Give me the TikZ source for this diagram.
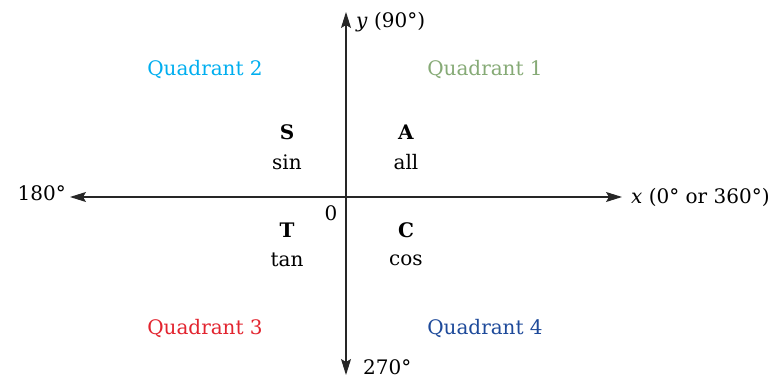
\documentclass[tikz,border=0pt]{standalone}
\usepackage{fontspec}
\setmainfont{DejaVu Serif}
\usetikzlibrary{arrows.meta}

\definecolor{qone}{RGB}{134,170,118}
\definecolor{qtwo}{RGB}{0,174,239}
\definecolor{qthree}{RGB}{226,36,47}
\definecolor{qfour}{RGB}{30,74,154}

\begin{document}
\begin{tikzpicture}[x=1pt, y=1pt, >={Stealth[length=16pt, width=10pt, inset=3pt]},
    font=\fontsize{20}{24}\selectfont,
    axis/.style={->, line width=1.1pt, black!85},
    quad/.style={inner sep=0pt},
    sign/.style={inner sep=0pt, align=center}]
				\useasboundingbox (-346, -181) rectangle (426, 197);
				% axes
				\coordinate (o) at (0, 0);
				\coordinate (xl) at (-276, 0);
				\coordinate (xr) at (276, 0);
				\coordinate (yt) at (0, 185);
				\coordinate (yb) at (0, -178);
				\draw[axis] (o) -- (xl);
				\draw[axis] (o) -- (xr);
				\draw[axis] (o) -- (yt);
				\draw[axis] (o) -- (yb);
				
				\node[anchor=east, inner sep=0pt] (deg180) at (-280, 4) {180°};
				\node[anchor=west, inner sep=0pt] (xlab) at (285, 0) {\textit{x} (0° or 360°)};
				\node[anchor=west, inner sep=0pt] (ylab) at (10, 175) {\textit{y} (90°)};
				\node[anchor=west, inner sep=0pt] (deg270) at (17, -170) {270°};
				\node[inner sep=0pt] (zero) at (-15, -16) {0};
				
				% quadrants
				\node[quad, text=qone] (q1) at (139, 127) {Quadrant 1};
				\node[quad, text=qtwo] (q2) at (-141, 127) {Quadrant 2};
				\node[quad, text=qthree] (q3) at (-141, -132) {Quadrant 3};
				\node[quad, text=qfour] (q4) at (139, -132) {Quadrant 4};
				
				% ASTC
				\node[sign] (a) at (60, 65) {\textbf{A}};
				\node[sign] (all) at (60, 35) {all};
				\node[sign] (s) at (-59, 65) {\textbf{S}};
				\node[sign] (sin) at (-59, 35) {sin};
				\node[sign] (t) at (-59, -33) {\textbf{T}};
				\node[sign] (tan) at (-59, -63) {tan};
				\node[sign] (c) at (60, -33) {\textbf{C}};
				\node[sign] (cos) at (60, -63) {cos};
			\end{tikzpicture}
\end{document}
